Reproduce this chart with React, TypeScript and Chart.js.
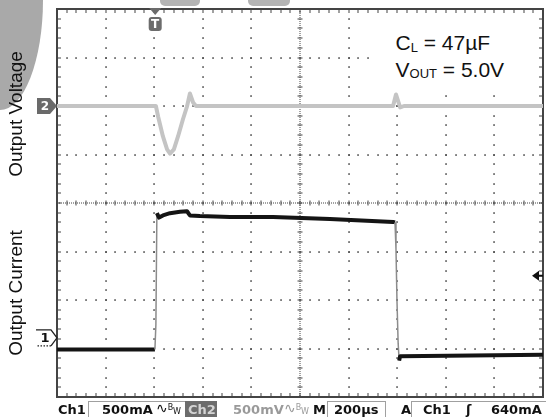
import { useEffect, useRef } from "react";
import { Chart, registerables } from "chart.js";

Chart.register(...registerables);

// Oscilloscope settings
const US_PER_DIV = 200; // M 200µs
const CH1_MA_PER_DIV = 500; // Ch1 500mA
const CH2_MV_PER_DIV = 500; // Ch2 500mV
const CH1_GROUND_DIV = -2.78; // ground marker "1" position (divisions from centre)
const CH2_GROUND_DIV = 2.0; // ground marker "2" position
const TRIGGER_US = 400;
const TRIGGER_LEVEL_MA = 640;

// Ch1: output current (mA)
const CURRENT_TIME_US = [0, 403, 407, 411, 420, 436, 465, 506, 535, 547, 588, 712, 889, 1123, 1383, 1391, 1395, 1399, 1404, 1408, 1412, 2000];
const CURRENT_MA = [-120, -120, 140, 1285, 1240, 1262, 1285, 1300, 1305, 1262, 1255, 1245, 1245, 1225, 1195, 1190, 915, 390, -60, -235, -190, -175];

// Ch2: output voltage deviation (mV, AC coupled)
const VOLTAGE_TIME_US = [0, 407, 416, 424, 436, 453, 465, 481, 498, 518, 535, 547, 560, 572, 1383, 1395, 1412, 1428, 2000];
const VOLTAGE_MV = [0, 0, -108, -191, -314, -448, -490, -448, -314, -139, -5, 129, 36, 0, 0, 119, -15, 0, 0];

const graticule = {
  id: "graticule",
  beforeDraw(chart: any) {
    const ctx = chart.ctx;
    ctx.save();
    ctx.fillStyle = "#ffffff";
    ctx.fillRect(0, 0, chart.width, chart.height);
    ctx.fillStyle = "#a9a9a9";
    ctx.beginPath();
    ctx.moveTo(0, 0);
    ctx.ellipse(0, 0, 43, 110, 0, 0, Math.PI / 2);
    ctx.closePath();
    ctx.fill();
    ctx.fillStyle = "#b4b4b4";
    ctx.beginPath();
    ctx.roundRect(160, -6, 40, 12, 5);
    ctx.fill();
    ctx.beginPath();
    ctx.roundRect(248, -6, 42, 12, 5);
    ctx.fill();
    ctx.restore();
  },
  beforeDatasetsDraw(chart: any) {
    const { ctx, chartArea: a } = chart;
    const xs = chart.scales.x;
    const xAt = (d: number) => xs.getPixelForValue(d * US_PER_DIV);
    const yAt = (d: number) => a.top + (d * (a.bottom - a.top)) / 8;
    ctx.save();
    // major grid dots
    ctx.fillStyle = "#4e4e4e";
    for (let i = 1; i < 10; i++) {
      if (i === 5) continue;
      const x = Math.round(xAt(i));
      for (let k = 1; k < 40; k++) {
        const y = Math.round(yAt(k / 5));
        ctx.fillRect(x - 0.75, y - 0.75, 1.6, 1.6);
      }
    }
    for (let j = 1; j < 8; j++) {
      if (j === 4) continue;
      const y = Math.round(yAt(j));
      for (let k = 1; k < 50; k++) {
        const x = Math.round(xAt(k / 5));
        ctx.fillRect(x - 0.75, y - 0.75, 1.6, 1.6);
      }
    }
    // centre lines
    ctx.fillStyle = "#444";
    const cx = Math.round(xAt(5));
    const cy = Math.round(yAt(4));
    for (let y = a.top; y < a.bottom; y += 2) ctx.fillRect(cx - 0.5, y, 1, 1);
    for (let x = a.left; x < a.right; x += 2) ctx.fillRect(x, cy - 0.5, 1, 1);
    for (let k = 1; k < 40; k++) {
      const y = Math.round(yAt(k / 5));
      ctx.fillRect(cx - 2.5, y - 0.5, 5, 1);
    }
    for (let k = 1; k < 50; k++) {
      const x = Math.round(xAt(k / 5));
      ctx.fillRect(x - 0.5, cy - 2.5, 1, 5);
    }
    // border ticks
    for (let k = 1; k < 50; k++) {
      const x = Math.round(xAt(k / 5));
      ctx.fillRect(x - 0.5, a.top, 1, 4);
      ctx.fillRect(x - 0.5, a.bottom - 4, 1, 4);
    }
    for (let k = 1; k < 40; k++) {
      const y = Math.round(yAt(k / 5));
      ctx.fillRect(a.left, y - 0.5, 4, 1);
      ctx.fillRect(a.right - 4, y - 0.5, 4, 1);
    }
    ctx.strokeStyle = "#444";
    ctx.lineWidth = 2;
    ctx.strokeRect(a.left, a.top, a.right - a.left, a.bottom - a.top);
    ctx.restore();
  },
  afterDatasetsDraw(chart: any) {
    const { ctx, chartArea: a } = chart;
    const xs = chart.scales.x;
    const yI = chart.scales.yI;
    const yV = chart.scales.yV;
    ctx.save();
    // trigger position marker
    const tx = xs.getPixelForValue(TRIGGER_US) + 1;
    ctx.fillStyle = "#6c6c6c";
    ctx.beginPath();
    ctx.moveTo(tx - 6, a.top - 1);
    ctx.lineTo(tx + 6, a.top - 1);
    ctx.lineTo(tx, a.top + 6);
    ctx.closePath();
    ctx.fill();
    ctx.beginPath();
    ctx.roundRect(tx - 6.5, a.top + 8, 13, 14, 3);
    ctx.fill();
    ctx.fillStyle = "#ffffff";
    ctx.font = "bold 12px 'DejaVu Sans', sans-serif";
    ctx.textAlign = "center";
    ctx.textBaseline = "middle";
    ctx.fillText("T", tx, a.top + 15.5);
    // ch2 ground marker
    const y2 = yV.getPixelForValue(0);
    ctx.fillStyle = "#6a6a6a";
    ctx.beginPath();
    ctx.moveTo(37, y2 - 8);
    ctx.lineTo(50, y2 - 8);
    ctx.lineTo(57, y2);
    ctx.lineTo(50, y2 + 8);
    ctx.lineTo(37, y2 + 8);
    ctx.closePath();
    ctx.fill();
    ctx.fillStyle = "#ffffff";
    ctx.fillText("2", 45, y2 + 0.5);
    // ch1 ground marker
    const y1 = yI.getPixelForValue(0);
    ctx.strokeStyle = "#222";
    ctx.lineWidth = 1.3;
    ctx.beginPath();
    ctx.moveTo(36, y1 - 8);
    ctx.lineTo(51, y1 - 8);
    ctx.lineTo(57, y1);
    ctx.lineTo(51, y1 + 8);
    ctx.stroke();
    ctx.setLineDash([1.5, 1.5]);
    ctx.beginPath();
    ctx.moveTo(51, y1 + 8);
    ctx.lineTo(36, y1 + 8);
    ctx.stroke();
    ctx.setLineDash([]);
    ctx.fillStyle = "#111";
    ctx.font = "bold 13px 'DejaVu Sans', sans-serif";
    ctx.fillText("1", 45, y1 + 0.5);
    // trigger level arrow
    const ty = yI.getPixelForValue(TRIGGER_LEVEL_MA);
    ctx.fillStyle = "#111";
    ctx.beginPath();
    ctx.moveTo(a.right - 11, ty);
    ctx.lineTo(a.right - 4, ty - 5);
    ctx.lineTo(a.right - 4, ty + 5);
    ctx.closePath();
    ctx.fill();
    ctx.fillRect(a.right - 5, ty - 1, 5, 2);
    ctx.restore();
  },
};

const steep = (c: any) =>
  Math.abs(c.p1.y - c.p0.y) > 10 && Math.abs(c.p1.y - c.p0.y) > 3 * Math.abs(c.p1.x - c.p0.x);

const sb: any = {
  position: "absolute",
  top: 403,
  fontFamily: "'DejaVu Sans', sans-serif",
  fontWeight: "bold",
  fontSize: 13,
  lineHeight: 1,
  whiteSpace: "nowrap",
  color: "#111",
};

function BW({ color }: { color: string }) {
  return (
    <span style={{ color, fontWeight: "normal" }}>
      <span style={{ fontSize: 14 }}>∿</span>
      <span style={{ fontSize: 8, position: "relative", top: -3 }}>B</span>
      <span style={{ fontSize: 8, position: "relative", top: 1 }}>W</span>
    </span>
  );
}

export default function App() {
  const ref = useRef<HTMLCanvasElement>(null);
  useEffect(() => {
    if (!ref.current) return;
    const chart = new Chart(ref.current, {
      type: "line",
      data: {
        datasets: [
          {
            label: "Output Voltage",
            data: VOLTAGE_TIME_US.map((t, i) => ({ x: t, y: VOLTAGE_MV[i] })),
            yAxisID: "yV",
            borderColor: "#c4c4c4",
            borderWidth: 4,
            pointRadius: 0,
            tension: 0,
            borderJoinStyle: "round",
          },
          {
            label: "Output Current",
            data: CURRENT_TIME_US.map((t, i) => ({ x: t, y: CURRENT_MA[i] })),
            yAxisID: "yI",
            borderColor: "#141414",
            borderWidth: 4,
            pointRadius: 0,
            tension: 0,
            borderJoinStyle: "round",
            segment: {
              borderColor: (c: any) => (steep(c) ? "#8c8c8c" : undefined),
              borderWidth: (c: any) => (steep(c) ? 1.5 : undefined),
            },
          } as any,
        ],
      },
      options: {
        animation: false,
        responsive: false,
        maintainAspectRatio: false,
        layout: { padding: { left: 57, top: 9, right: 3, bottom: 20 } },
        plugins: { legend: { display: false }, tooltip: { enabled: false } },
        scales: {
          x: { type: "linear", min: 0, max: 10 * US_PER_DIV, display: false },
          yI: {
            type: "linear",
            min: (-4 - CH1_GROUND_DIV) * CH1_MA_PER_DIV,
            max: (4 - CH1_GROUND_DIV) * CH1_MA_PER_DIV,
            display: false,
          },
          yV: {
            type: "linear",
            min: (-4 - CH2_GROUND_DIV) * CH2_MV_PER_DIV,
            max: (4 - CH2_GROUND_DIV) * CH2_MV_PER_DIV,
            display: false,
          },
        },
      },
      plugins: [graticule],
    });
    return () => chart.destroy();
  }, []);

  const label: any = {
    position: "absolute",
    left: 15.3,
    transform: "translate(-50%, -50%) rotate(-90deg)",
    fontSize: 19,
    lineHeight: 1,
    whiteSpace: "nowrap",
    color: "#111",
  };
  const ann: any = {
    position: "absolute",
    left: 395.5,
    fontSize: 21,
    lineHeight: 1,
    whiteSpace: "nowrap",
    color: "#111",
  };
  const sub: any = { fontSize: 13, position: "relative", top: 1.5 };

  return (
    <div
      style={{
        position: "fixed",
        left: 0,
        top: 0,
        width: 546,
        height: 417,
        background: "#fff",
        overflow: "hidden",
        fontFamily: "'Liberation Sans', Arial, sans-serif",
      }}
    >
      <canvas ref={ref} width={546} height={417} style={{ position: "absolute", left: 0, top: 0, width: 546, height: 417 }} />
      <div style={{ ...label, top: 114 }}>Output Voltage</div>
      <div style={{ ...label, top: 292.5 }}>Output Current</div>
      <div style={{ position: "absolute", left: 373, top: 16, width: 164, height: 76, background: "#fff" }} />
      <div style={{ ...ann, top: 32.2 }}>
        C<span style={sub}>L</span> = 47µF
      </div>
      <div style={{ ...ann, top: 58.7 }}>
        V<span style={sub}>OUT</span> = 5.0V
      </div>
      {/* status bar */}
      <div style={{ position: "absolute", left: 88, top: 401, width: 97, height: 20, borderLeft: "1px solid #a0a0a0", borderTop: "1px solid #a0a0a0" }} />
      <div style={{ position: "absolute", left: 185, top: 401, width: 32, height: 20, background: "#6c6c6c" }} />
      <div style={{ position: "absolute", left: 327, top: 401, width: 57, height: 20, border: "1px solid #a0a0a0" }} />
      <div style={{ position: "absolute", left: 411, top: 401, width: 140, height: 20, borderLeft: "1px solid #a0a0a0", borderTop: "1px solid #a0a0a0" }} />
      <div style={{ ...sb, left: 58 }}>Ch1</div>
      <div style={{ ...sb, left: 102 }}>500mA</div>
      <div style={{ ...sb, left: 156, top: 401 }}><BW color="#111" /></div>
      <div style={{ ...sb, left: 188, color: "#d4d4d4" }}>Ch2</div>
      <div style={{ ...sb, left: 233, color: "#9a9a9a" }}>500mV</div>
      <div style={{ ...sb, left: 284, top: 401 }}><BW color="#9a9a9a" /></div>
      <div style={{ ...sb, left: 313 }}>M</div>
      <div style={{ ...sb, left: 334 }}>200µs</div>
      <div style={{ ...sb, left: 401 }}>A</div>
      <div style={{ ...sb, left: 423 }}>Ch1</div>
      <div style={{ ...sb, left: 466 }}>ʃ</div>
      <div style={{ ...sb, left: 491 }}>640mA</div>
    </div>
  );
}
